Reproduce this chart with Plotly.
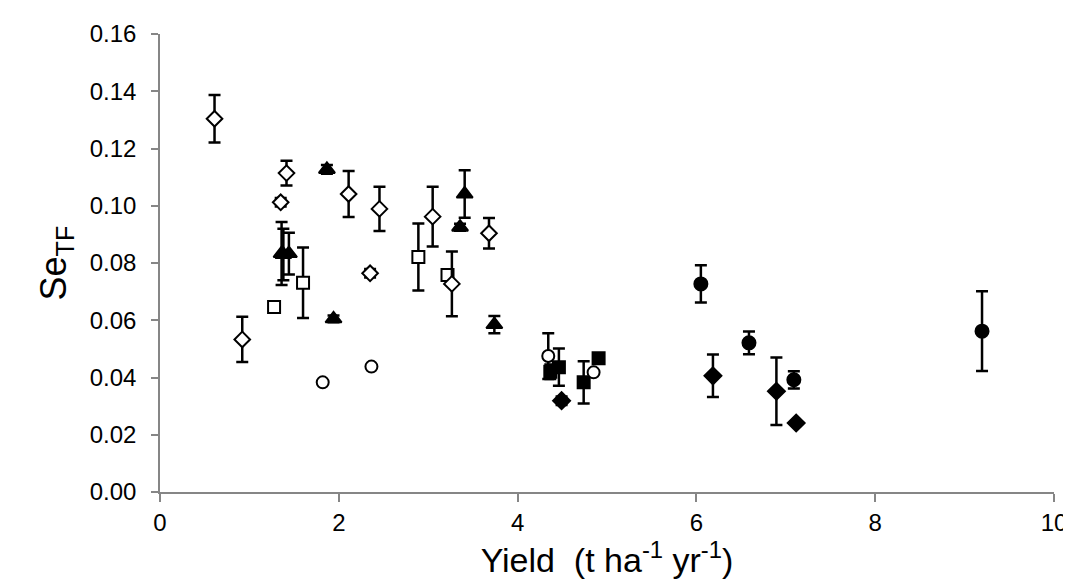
import plotly.graph_objects as go

# Open diamonds
od_x = [0.61, 0.92, 1.415, 1.35, 2.11, 2.455, 2.35, 3.05, 3.265, 3.68]
od_y = [0.1304, 0.0533, 0.1114, 0.1012, 0.1041, 0.0989, 0.0764, 0.0962, 0.0727, 0.0904]
od_e = [0.0083, 0.0079, 0.0043, 0.0015, 0.008, 0.0077, 0.0015, 0.0104, 0.0113, 0.0053]

# Open squares
os_x = [1.276, 1.60, 2.89, 3.216]
os_y = [0.0646, 0.0731, 0.0821, 0.0758]
os_e = [0, 0.0123, 0.0117, 0]

# Open circles
oc_x = [1.82, 2.365, 4.343, 4.85]
oc_y = [0.0383, 0.0438, 0.0475, 0.0418]
oc_e = [0, 0, 0.008, 0]

# Filled triangles
ft_x = [1.36, 1.38, 1.442, 1.867, 1.941, 3.356, 3.408, 3.74]
ft_y = [0.0833, 0.0830, 0.0833, 0.1127, 0.0605, 0.0925, 0.1041, 0.0585]
ft_e = [0.011, 0.009, 0.0073, 0.0015, 0.0012, 0.0012, 0.0083, 0.003]

# Filled squares
fs_x = [4.366, 4.462, 4.739, 4.906]
fs_y = [0.042, 0.0436, 0.0383, 0.0467]
fs_e = [0.0025, 0.0065, 0.0074, 0.001]

# Filled diamonds
fd_x = [4.492, 6.185, 6.895, 7.116]
fd_y = [0.0319, 0.0406, 0.0352, 0.0241]
fd_e = [0.0015, 0.0074, 0.0118, 0]

# Filled circles
fc_x = [6.05, 6.588, 7.09, 9.195]
fc_y = [0.0727, 0.0521, 0.0392, 0.0562]
fc_e = [0.0065, 0.004, 0.003, 0.0139]

x_ticks = [0, 2, 4, 6, 8, 10]
y_ticks = [0.00, 0.02, 0.04, 0.06, 0.08, 0.10, 0.12, 0.14, 0.16]

fig = go.Figure()

def add(x, y, e, symbol, filled, size):
    fig.add_trace(go.Scatter(
        x=x, y=y, mode="markers",
        error_y=dict(type="data", array=e, visible=True, color="black", thickness=2.5, width=6),
        marker=dict(symbol=symbol, size=size,
                    color="black" if filled else "white",
                    line=dict(color="black", width=2)),
        showlegend=False,
    ))

add(fs_x, fs_y, fs_e, "square", True, 12)
add(os_x, os_y, os_e, "square", False, 12)
add(ft_x, ft_y, ft_e, "triangle-up", True, 14)
add(od_x, od_y, od_e, "diamond", False, 12)
add(oc_x, oc_y, oc_e, "circle", False, 12)
add(fd_x, fd_y, fd_e, "diamond", True, 13)
add(fc_x, fc_y, fc_e, "circle", True, 13)

axis_color = "#868686"
fig.update_layout(
    width=1071, height=585,
    margin=dict(l=152, r=18, t=22, b=101),
    paper_bgcolor="white", plot_bgcolor="white",
    font=dict(family="Liberation Sans, Arial", color="black"),
    xaxis=dict(
        range=[0, 10], tickvals=x_ticks, ticktext=[str(v) for v in x_ticks],
        showgrid=False, zeroline=False, showline=True, linecolor=axis_color, linewidth=1.5,
        ticks="outside", tickcolor=axis_color, ticklen=8, tickwidth=1.5,
        tickfont=dict(size=24),
        title=dict(text="Yield&nbsp; (t ha<sup>-1</sup> yr<sup>-1</sup>)", font=dict(size=34), standoff=6),
    ),
    yaxis=dict(
        range=[0, 0.16], tickvals=y_ticks, ticktext=[f"{v:.2f}" for v in y_ticks],
        showgrid=False, zeroline=False, showline=True, linecolor=axis_color, linewidth=1.5,
        ticks="outside", tickcolor=axis_color, ticklen=7, tickwidth=1.5,
        tickfont=dict(size=24), ticklabelstandoff=10,
        title=dict(text="Se<sub>TF</sub>", font=dict(size=36), standoff=12),
    ),
)

fig.write_html("out.html")
